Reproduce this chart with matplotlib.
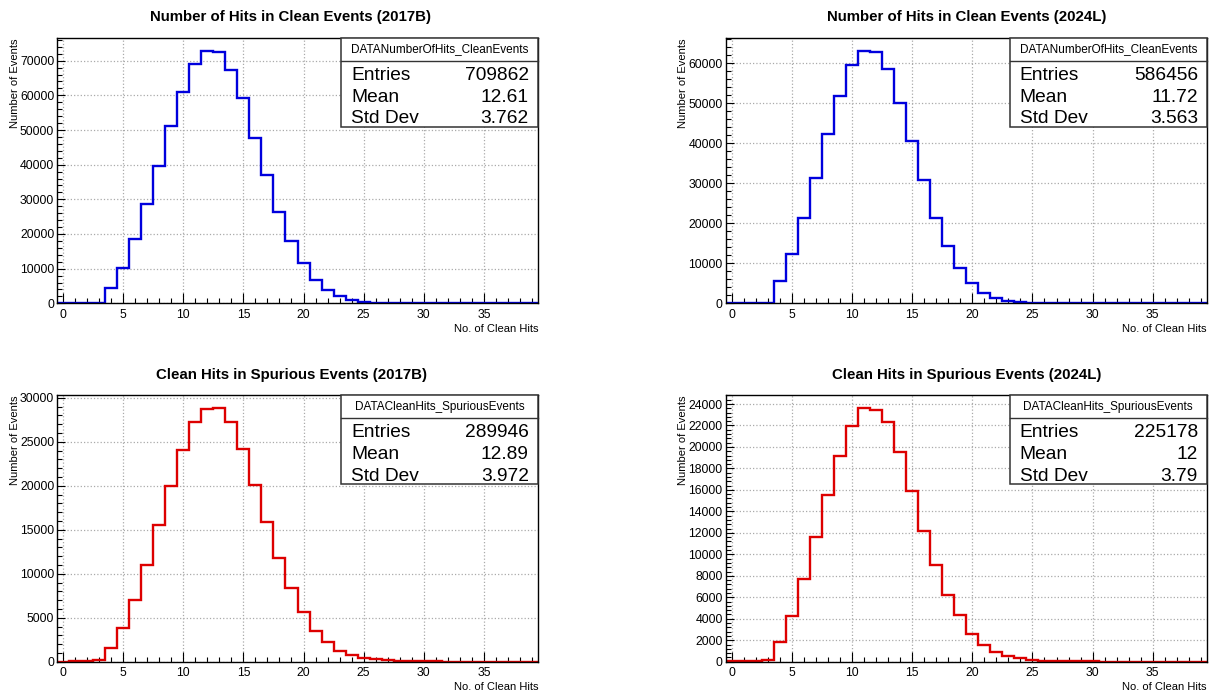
import numpy as np
from matplotlib import pyplot as plt
from matplotlib.ticker import MultipleLocator

plt.rcParams['font.family'] = ['Liberation Sans', 'DejaVu Sans']

# bin edges: 40 bins of width 1, centred on 0..39
edges = np.arange(-0.5, 40.0, 1.0)

clean_2017B = [0, 0, 0, 0, 4300, 10200, 18500, 28700, 39600, 51100,
               60900, 69100, 72900, 72400, 67200, 59100, 47800, 36900, 26400, 18100,
               11700, 6800, 3900, 2000, 950, 450, 220, 110, 55, 30,
               15, 8, 4, 2, 1, 0, 0, 0, 0, 0]
clean_2024L = [0, 0, 0, 0, 5500, 12300, 21300, 31400, 42400, 51900,
               59500, 63200, 62900, 58700, 50200, 40600, 30800, 21400, 14300, 8800,
               5100, 2700, 1250, 560, 270, 130, 60, 30, 15, 8,
               4, 2, 1, 0, 0, 0, 0, 0, 0, 0]
spur_2017B = [10, 30, 60, 150, 1520, 3800, 7040, 10960, 15530, 19980,
              24020, 27290, 28780, 28850, 27250, 24130, 20140, 15910, 11840, 8340,
              5600, 3540, 2250, 1260, 760, 450, 260, 160, 100, 60,
              40, 25, 15, 10, 6, 4, 2, 1, 1, 0]
spur_2024L = [20, 40, 70, 150, 1840, 4280, 7680, 11640, 15480, 19160,
              21970, 23630, 23470, 22320, 19570, 15890, 12200, 9020, 6180, 4340,
              2590, 1530, 880, 500, 300, 180, 110, 70, 45, 30,
              20, 12, 8, 5, 3, 2, 1, 1, 0, 0]

titles = ["Number of Hits in Clean Events (2017B)", "Number of Hits in Clean Events (2024L)",
          "Clean Hits in Spurious Events (2017B)", "Clean Hits in Spurious Events (2024L)"]
hist_names = ["DATANumberOfHits_CleanEvents", "DATANumberOfHits_CleanEvents",
              "DATACleanHits_SpuriousEvents", "DATACleanHits_SpuriousEvents"]
entries = ["709862", "586456", "289946", "225178"]
means = ["12.61", "11.72", "12.89", "12"]
stddevs = ["3.762", "3.563", "3.972", "3.79"]

W, H = 1217, 692
fig = plt.figure(figsize=(W / 100, H / 100), dpi=100)

# pixel boxes (left, top, right, bottom) of each frame
frames = [(57, 38, 538, 303.3), (725.5, 38, 1207, 303.3),
          (57, 395.3, 538, 661.7), (725.5, 395.3, 1207, 661.7)]
title_pos = [(291, 17), (967, 17), (291, 375), (967, 375)]
data = [clean_2017B, clean_2024L, spur_2017B, spur_2024L]
colors = ['#0000dd', '#0000dd', '#dd0000', '#dd0000']
ymajor = [10000, 10000, 5000, 2000]
yminor = [2000, 2000, 1000, 400]

for i in range(4):
    l, t, r, b = frames[i]
    ax = fig.add_axes([l / W, 1 - b / H, (r - l) / W, (b - t) / H])
    ax.stairs(data[i], edges, color=colors[i], linewidth=1.7, baseline=None)
    ax.set_xlim(-0.5, 39.5)
    ax.set_ylim(0, max(data[i]) * 1.05)

    ax.xaxis.set_major_locator(MultipleLocator(5))
    ax.xaxis.set_minor_locator(MultipleLocator(1))
    ax.yaxis.set_major_locator(MultipleLocator(ymajor[i]))
    ax.yaxis.set_minor_locator(MultipleLocator(yminor[i]))
    ax.tick_params(which='both', direction='in', labelsize=8.8, width=0.8, color='black')
    ax.tick_params(axis='x', which='major', length=7, pad=4)
    ax.tick_params(axis='x', which='minor', length=3.5)
    ax.tick_params(axis='y', which='major', length=6, pad=2)
    ax.tick_params(axis='y', which='minor', length=3.5)
    ax.grid(True, which='major', linestyle=':', color='#aaaaaa', linewidth=0.9)
    ax.set_axisbelow(True)
    for s in ax.spines.values():
        s.set_linewidth(1.0)

    ax.set_xlabel("No. of Clean Hits", fontsize=8, loc='right', labelpad=2)
    ax.set_ylabel("Number of Events", fontsize=8, loc='top', labelpad=0)

    fig.text(title_pos[i][0] / W, 1 - title_pos[i][1] / H, titles[i],
             ha='center', va='center', fontsize=10.8, fontweight='bold')

    # stats box
    ax.add_patch(plt.Rectangle((0.59, 0.666), 0.41, 0.334, transform=ax.transAxes,
                               facecolor='white', edgecolor='#333333', linewidth=1.1,
                               zorder=5, clip_on=False))
    ax.plot([0.59, 1.0], [0.913, 0.913], transform=ax.transAxes, color='#333333',
            linewidth=1.0, zorder=6, clip_on=False)
    ax.text(0.795, 0.957, hist_names[i], transform=ax.transAxes, ha='center',
            va='center', fontsize=8.5, zorder=7)
    rows = [("Entries", entries[i]), ("Mean", means[i]), ("Std Dev", stddevs[i])]
    for k, (lab, val) in enumerate(rows):
        yy = 0.859 - k * 0.082
        ax.text(0.611, yy, lab, transform=ax.transAxes, ha='left', va='center',
                fontsize=13.8, zorder=7)
        ax.text(0.981, yy, val, transform=ax.transAxes, ha='right', va='center',
                fontsize=13.8, zorder=7)

fig.savefig("out.png", dpi=100)
